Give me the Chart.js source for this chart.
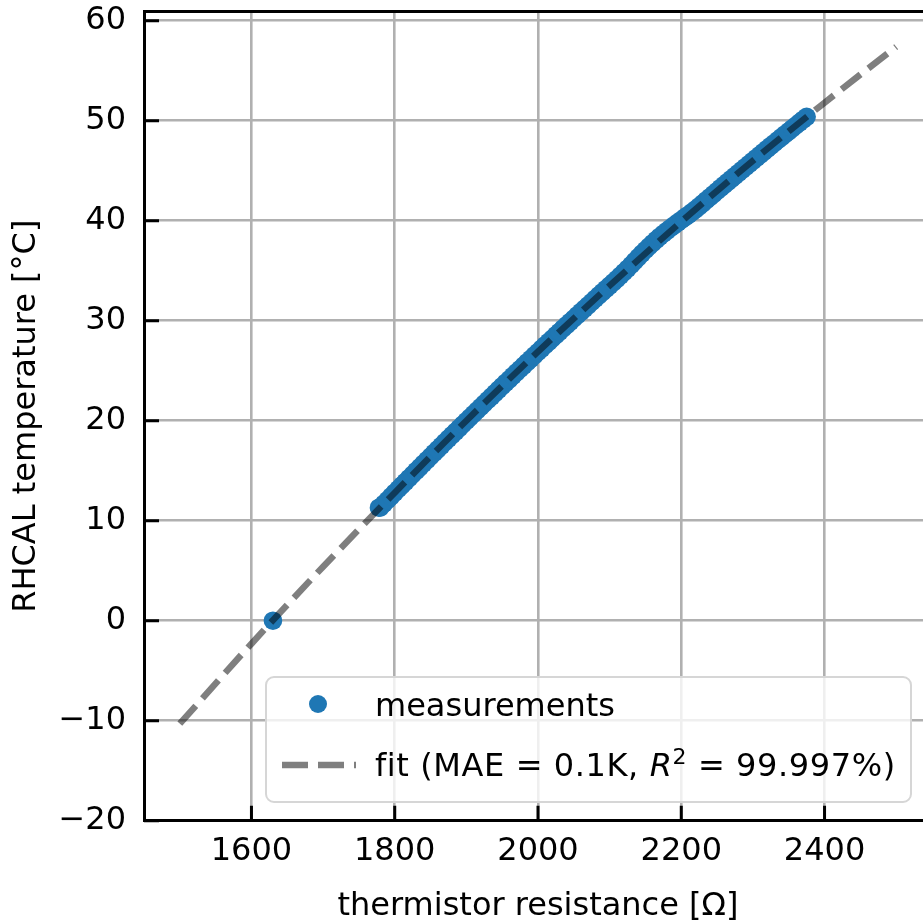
<!DOCTYPE html>
<html lang="en">
<head>
<meta charset="UTF-8">
<title>Thermistor calibration</title>
<style>
  html, body { margin: 0; padding: 0; overflow: hidden; background: #fff; }
  #wrap { position: relative; width: 945px; height: 923px; }
  #legend {
    position: absolute; left: 265px; top: 676px; width: 643px; height: 123px;
    border: 2.5px solid #d6d6d6; border-radius: 9px; background: rgba(255,255,255,0.8);
    font-family: "DejaVu Sans"; font-size: 32px; color: #000;
  }
  #legend .txt { position: absolute; left: 108px; height: 40px; line-height: 40px; white-space: nowrap; }
  #legend .dot { position: absolute; left: 42px; top: 17px; width: 18px; height: 18px; border-radius: 50%; background: #1f77b4; }
  #legend svg { position: absolute; left: 15px; top: 82px; }
  #legend sup { font-size: 22px; line-height: 0; vertical-align: 12px; }
  #legend .wide { letter-spacing: 0.6px; }
</style>
</head>
<body>
<div id="wrap">
  <canvas id="chart" width="945" height="923"></canvas>
  <div id="legend">
    <div class="dot"></div>
    <div class="txt" style="top:7px">measurements</div>
    <svg width="76" height="10"><line x1="0" y1="5" x2="74" y2="5" stroke="rgba(0,0,0,0.5)" stroke-width="6.5" stroke-dasharray="26 10"/></svg>
    <div class="txt wide" style="top:67px">fit (MAE = 0.1K, <i>R</i><sup>2</sup> = 99.997%)</div>
  </div>
</div>

<script src="https://cdn.jsdelivr.net/npm/chart.js"></script>
<script>
// measurements (thermistor resistance in ohm, RHCAL temperature in degC)
const measR = [1630, 1778,
  1780, 1785, 1790, 1795, 1800, 1805, 1810, 1815, 1820, 1825, 1830, 1835, 1840, 1845,
  1850, 1855, 1860, 1865, 1870, 1875, 1880, 1885, 1890, 1895, 1900, 1905, 1910, 1915,
  1920, 1925, 1930, 1935, 1940, 1945, 1950, 1955, 1960, 1965, 1970, 1975, 1980, 1985,
  1990, 1995, 2000, 2005, 2010, 2015, 2020, 2025, 2030, 2035, 2040, 2045, 2050, 2055,
  2060, 2065, 2070, 2075, 2080, 2085, 2090, 2095, 2100, 2105, 2110, 2115, 2120, 2125,
  2130, 2135, 2140, 2145, 2150, 2155, 2160, 2165, 2170, 2175, 2180, 2185, 2190, 2195,
  2200, 2205, 2210, 2215, 2220, 2225, 2230, 2235, 2240, 2245, 2250, 2255, 2260, 2265,
  2270, 2275, 2280, 2285, 2290, 2295, 2300, 2305, 2310, 2315, 2320, 2325, 2330, 2335,
  2340, 2345, 2350, 2355, 2360, 2365, 2370, 2375];
const measT = [0.0, 11.3,
  11.33, 11.70, 12.07, 12.43, 12.80, 13.17, 13.53, 13.89, 14.25, 14.62, 14.98, 15.34, 15.70, 16.06,
  16.42, 16.78, 17.13, 17.49, 17.85, 18.21, 18.56, 18.91, 19.26, 19.62, 19.97, 20.32, 20.67, 21.02,
  21.37, 21.72, 22.07, 22.41, 22.76, 23.11, 23.45, 23.80, 24.14, 24.49, 24.83, 25.17, 25.51, 25.85,
  26.19, 26.53, 26.87, 27.21, 27.55, 27.88, 28.22, 28.56, 28.89, 29.23, 29.56, 29.89, 30.22, 30.55,
  30.88, 31.21, 31.54, 31.87, 32.20, 32.53, 32.86, 33.18, 33.51, 33.83, 34.16, 34.50, 34.85, 35.20,
  35.57, 35.95, 36.33, 36.71, 37.07, 37.42, 37.75, 38.08, 38.40, 38.70, 38.99, 39.27, 39.54, 39.81,
  40.07, 40.33, 40.59, 40.86, 41.14, 41.43, 41.74, 42.05, 42.35, 42.66, 42.97, 43.28, 43.58, 43.88,
  44.18, 44.49, 44.79, 45.09, 45.39, 45.69, 45.99, 46.29, 46.58, 46.88, 47.18, 47.48, 47.77, 48.07,
  48.36, 48.65, 48.94, 49.23, 49.52, 49.81, 50.10, 50.39];

// fitted curve
const fitR = [1500, 1600, 1700, 1800, 1900, 2000, 2100, 2200, 2300, 2400, 2500];
const fitT = [-10.3, -2.3, 5.4, 12.8, 20.0, 26.9, 33.5, 39.9, 46.0, 51.8, 57.4];

const xTicks = [1600, 1800, 2000, 2200, 2400];
const yTicks = [-20, -10, 0, 10, 20, 30, 40, 50, 60];

const FONT = 'DejaVu Sans';
Chart.defaults.color = '#000';
Chart.defaults.font.family = FONT;

function fmt(v) {
  return v < 0 ? '\u2212' + Math.abs(v) : String(v);
}

// matplotlib style ticks pointing into the plot
const inwardTicks = {
  id: 'inwardTicks',
  afterDatasetsDraw(chart) {
    const {ctx, chartArea, scales} = chart;
    ctx.save();
    ctx.strokeStyle = '#000';
    ctx.lineWidth = 3;
    ctx.beginPath();
    scales.x.ticks.forEach(t => {
      const p = scales.x.getPixelForValue(t.value);
      ctx.moveTo(p, chartArea.bottom);
      ctx.lineTo(p, chartArea.bottom - 15);
    });
    scales.y.ticks.forEach(t => {
      const p = scales.y.getPixelForValue(t.value);
      ctx.moveTo(chartArea.left, p);
      ctx.lineTo(chartArea.left + 15, p);
    });
    ctx.stroke();
    ctx.restore();
  }
};

const gridOpts = { color: '#b0b0b0', lineWidth: 2.6, drawTicks: false };
const borderOpts = { color: '#000', width: 3 };

new Chart(document.getElementById('chart'), {
  type: 'scatter',
  data: {
    datasets: [{
      label: 'fit',
      data: fitR.map((r, i) => ({ x: r, y: fitT[i] })),
      showLine: true,
      borderColor: 'rgba(0,0,0,0.5)',
      borderWidth: 6.5,
      borderDash: [24, 10],
      borderCapStyle: 'butt',
      cubicInterpolationMode: 'monotone',
      pointRadius: 0,
      order: 0
    }, {
      label: 'measurements',
      data: measR.map((r, i) => ({ x: r, y: measT[i] })),
      pointRadius: 9.3,
      pointBorderWidth: 0,
      backgroundColor: '#1f77b4',
      borderColor: '#1f77b4',
      order: 1
    }]
  },
  options: {
    responsive: false,
    animation: false,
    events: [],
    layout: { padding: { left: 0, top: 0, right: 13, bottom: 0 } },
    plugins: { legend: { display: false }, tooltip: { enabled: false } },
    scales: {
      x: {
        type: 'linear', position: 'bottom', min: 1450, max: 2550,
        afterBuildTicks: s => { s.ticks = xTicks.map(v => ({ value: v })); },
        afterFit: s => { s.height = 102.3; s.paddingLeft = 0; s.paddingRight = 0; },
        grid: gridOpts,
        border: borderOpts,
        ticks: { autoSkip: false, maxRotation: 0, padding: 12, font: { size: 32 }, callback: v => fmt(v) },
        title: { display: true, text: 'thermistor resistance [Ω]', font: { size: 32 }, padding: { top: 0, bottom: -3 } }
      },
      xTop: {
        type: 'linear', position: 'top',
        afterFit: s => { s.height = 11.7; s.paddingLeft = 0; s.paddingRight = 0; },
        grid: { display: false, drawTicks: false },
        border: borderOpts,
        ticks: { display: false }
      },
      y: {
        type: 'linear', position: 'left', min: -20, max: 60.9,
        afterBuildTicks: s => { s.ticks = yTicks.map(v => ({ value: v })); },
        afterFit: s => { s.width = 144; s.paddingTop = 0; s.paddingBottom = 0; },
        grid: gridOpts,
        border: borderOpts,
        ticks: { autoSkip: false, padding: 18, font: { size: 32 }, callback: v => fmt(v) },
        title: { display: true, text: 'RHCAL temperature [°C]', font: { size: 32 }, padding: { top: 7, bottom: 0 } }
      }
    }
  },
  plugins: [inwardTicks]
});
</script>
</body>
</html>
